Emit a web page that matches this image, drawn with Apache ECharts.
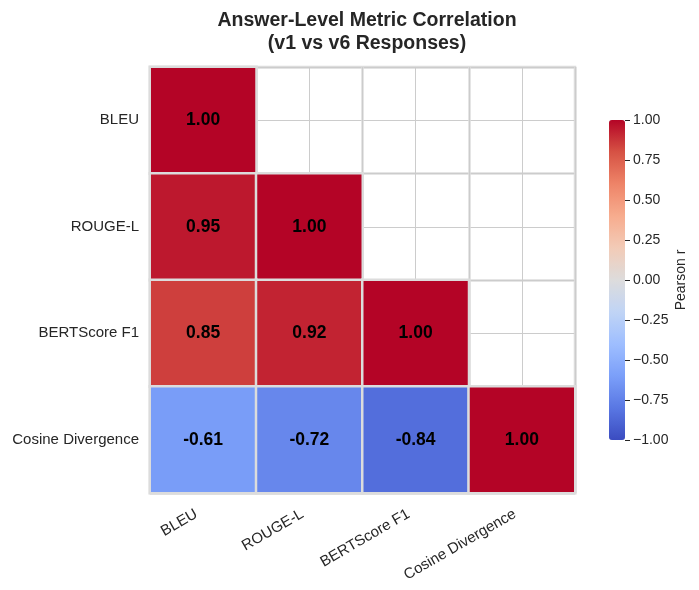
<!DOCTYPE html>
<html>
<head>
<meta charset="utf-8">
<script src="https://cdn.jsdelivr.net/npm/echarts@6/dist/echarts.min.js"></script>
<style>
  html, body { margin: 0; padding: 0; background: #fff; }
  #chart { width: 699px; height: 590px; }
</style>
</head>
<body>
<div id="chart"></div>
<script>
// metric names, top to bottom / left to right
var metrics = ['BLEU', 'ROUGE-L', 'BERTScore F1', 'Cosine Divergence'];
// lower triangle of the correlation matrix, one row per metric
var corrRows = [
	[1.00],
	[0.95, 1.00],
	[0.85, 0.92, 1.00],
	[-0.61, -0.72, -0.84, 1.00]
];
// coolwarm colormap samples
var coolwarm = ['#3b4cc0', '#5977e3', '#7b9ff9', '#9ebeff', '#c0d4f5', '#dddcdc',
	'#f2cbb7', '#f7ac8e', '#ee8468', '#d65244', '#b40426'];

var cells = [];
for (var r = 0; r < corrRows.length; r++) {
	for (var c = 0; c < corrRows[r].length; c++) {
		cells.push([c, r, corrRows[r][c]]);
	}
}

var font = "'Liberation Sans', Arial, sans-serif";
var chart = echarts.init(document.getElementById('chart'));
chart.setOption({
	backgroundColor : '#fff',
	textStyle : { fontFamily : font },
	title : {
		text : 'Answer-Level Metric Correlation\n(v1 vs v6 Responses)',
		left : 362,
		textAlign : 'center',
		top : 4,
		textStyle : { fontSize : 19.5, fontWeight : 'bold', color : '#262626', lineHeight : 23, fontFamily : font }
	},
	grid : [
		{ left : 150, top : 67, width : 425, height : 426, show : true, borderColor : '#dcdcdc', borderWidth : 2.5, backgroundColor : 'transparent' },
		{ left : 609, top : 120, width : 16, height : 320, show : false }
	],
	xAxis : [
		{
			type : 'category',
			gridIndex : 0,
			data : metrics,
			axisLine : { show : false },
			axisTick : { show : false },
			axisLabel : { rotate : 30, fontSize : 15, color : '#262626', margin : 16, interval : 0, padding : [0, 8, 0, 0] },
			splitLine : { show : true, lineStyle : { color : '#dcdcdc', width : 2.5 } }
		},
		{
			type : 'value',
			gridIndex : 0,
			min : 0, max : 8, interval : 1,
			axisLine : { show : false }, axisTick : { show : false }, axisLabel : { show : false },
			splitLine : { show : true, lineStyle : { color : '#cccccc', width : 1 } }
		},
		{ type : 'category', gridIndex : 1, show : false, data : ['bar'] }
	],
	yAxis : [
		{
			type : 'category',
			gridIndex : 0,
			data : metrics,
			inverse : true,
			axisLine : { show : false },
			axisTick : { show : false },
			axisLabel : { fontSize : 15, color : '#262626', margin : 11 },
			splitLine : { show : true, lineStyle : { color : '#dcdcdc', width : 2.5 } }
		},
		{
			type : 'value',
			gridIndex : 0,
			min : 0, max : 8, interval : 1,
			axisLine : { show : false }, axisTick : { show : false }, axisLabel : { show : false },
			splitLine : { show : true, lineStyle : { color : '#cccccc', width : 1 } }
		},
		{
			type : 'value',
			gridIndex : 1,
			position : 'right',
			min : -1, max : 1, interval : 0.25,
			axisLine : { show : false, onZero : false },
			axisTick : { show : true, length : 5, lineStyle : { color : '#262626', width : 1 } },
			axisLabel : {
				fontSize : 14, color : '#262626', margin : 8,
				formatter : function(v) {
					var s = Math.abs(v).toFixed(2);
					return v < 0 ? '\u2212' + s : s;
				}
			},
			splitLine : { show : false },
			name : 'Pearson r',
			nameLocation : 'middle',
			nameRotate : 90,
			nameGap : 49,
			nameTextStyle : { fontSize : 14, color : '#262626' }
		}
	],
	visualMap : {
		type : 'continuous',
		min : -1, max : 1,
		seriesIndex : 0,
		left : 609, top : 120,
		itemWidth : 16, itemHeight : 320,
		padding : 0,
		calculable : false,
		hoverLink : false,
		inRange : { color : coolwarm }
	},
	series : [{
		type : 'heatmap',
		xAxisIndex : 0,
		yAxisIndex : 0,
		data : cells,
		itemStyle : { borderColor : '#dcdcdc', borderWidth : 2.5 },
		label : {
			show : true,
			fontSize : 17.5,
			fontWeight : 'bold',
			color : '#000',
			fontFamily : font,
			formatter : function(p) { return p.value[2].toFixed(2); }
		},
		emphasis : { disabled : true }
	}]
});
</script>
</body>
</html>
